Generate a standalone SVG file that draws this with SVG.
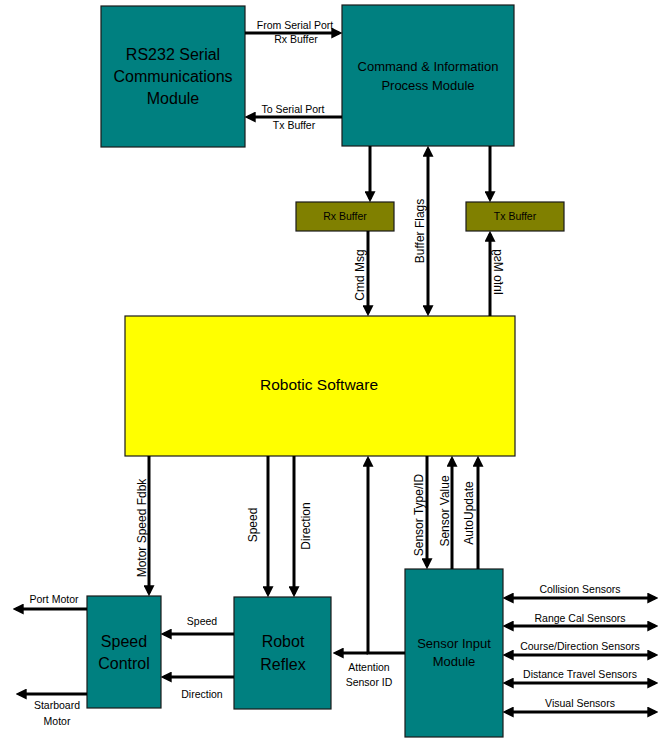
<svg xmlns="http://www.w3.org/2000/svg" width="666" height="739" viewBox="0 0 666 739">
<style>
text{font-family:"Liberation Sans",Arial,sans-serif;fill:#000}
.box{stroke:#1a1a1a;stroke-width:1.2}
.teal{fill:#008080}
.olive{fill:#808000}
.yellow{fill:#ffff00}
.lbl{font-size:10.5px;text-anchor:middle}
.vl{font-size:12px;text-anchor:middle}
.big{font-size:16px;text-anchor:middle}
.mid{font-size:13px;text-anchor:middle}
.c line,.c path{stroke:#000;stroke-width:3;fill:none}
</style>
<defs>
<marker id="ah" viewBox="0 0 10 10" refX="7" refY="5" markerWidth="11" markerHeight="11" markerUnits="userSpaceOnUse" orient="auto-start-reverse">
<path d="M0,0 L10,5 L0,10 z" fill="#000"/>
</marker>
</defs>
<rect width="666" height="739" fill="#fff"/>

<g id="rs232">
<rect class="box teal" x="101" y="6" width="144" height="141"/>
<text class="big" x="173" y="60">RS232 Serial</text>
<text class="big" x="173" y="82">Communications</text>
<text class="big" x="173" y="104">Module</text>
</g>

<g id="command">
<rect class="box teal" x="342" y="5" width="172" height="141"/>
<text class="mid" x="428" y="71">Command &amp; Information</text>
<text class="mid" x="428" y="90">Process Module</text>
</g>

<g id="rxbuffer">
<rect class="box olive" x="296" y="202" width="98" height="29"/>
<text class="lbl" x="345" y="220">Rx Buffer</text>
</g>

<g id="txbuffer">
<rect class="box olive" x="466" y="202" width="98" height="29"/>
<text class="lbl" x="515" y="220">Tx Buffer</text>
</g>

<g id="robotic">
<rect class="box yellow" x="125" y="316" width="390" height="140"/>
<text class="big" x="319" y="390" style="font-size:15.5px">Robotic Software</text>
</g>

<g id="speedcontrol">
<rect class="box teal" x="87" y="596" width="74" height="112"/>
<text class="big" x="124" y="647">Speed</text>
<text class="big" x="124" y="669">Control</text>
</g>

<g id="robotreflex">
<rect class="box teal" x="234" y="597" width="97" height="112"/>
<text class="big" x="283" y="647">Robot</text>
<text class="big" x="283" y="670">Reflex</text>
</g>

<g id="sensorinput">
<rect class="box teal" x="405" y="569" width="98" height="168"/>
<text class="mid" x="454" y="648">Sensor Input</text>
<text class="mid" x="454" y="666">Module</text>
</g>

<g id="connectors" class="c">
<line x1="245" y1="33" x2="339" y2="33" marker-end="url(#ah)"/>
<line x1="342" y1="117" x2="248" y2="117" marker-end="url(#ah)"/>
<line x1="370" y1="146" x2="370" y2="199" marker-end="url(#ah)"/>
<line x1="428" y1="149" x2="428" y2="313" marker-start="url(#ah)" marker-end="url(#ah)"/>
<line x1="490" y1="146" x2="490" y2="199" marker-end="url(#ah)"/>
<line x1="368" y1="231" x2="368" y2="313" marker-end="url(#ah)"/>
<line x1="490" y1="316" x2="490" y2="234" marker-end="url(#ah)"/>
<line x1="149" y1="456" x2="149" y2="593" marker-end="url(#ah)"/>
<line x1="268" y1="456" x2="268" y2="594" marker-end="url(#ah)"/>
<line x1="294" y1="456" x2="294" y2="594" marker-end="url(#ah)"/>
<line x1="427" y1="456" x2="427" y2="566" marker-end="url(#ah)"/>
<line x1="452" y1="569" x2="452" y2="459" marker-end="url(#ah)"/>
<line x1="478" y1="569" x2="478" y2="459" marker-end="url(#ah)"/>
<path d="M405,653 L368,653 L368,459" marker-end="url(#ah)"/>
<line x1="368" y1="653" x2="336" y2="653" marker-end="url(#ah)"/>
<line x1="87" y1="609" x2="16" y2="609" marker-end="url(#ah)"/>
<line x1="87" y1="694" x2="19" y2="694" marker-end="url(#ah)"/>
<line x1="234" y1="634" x2="164" y2="634" marker-end="url(#ah)"/>
<line x1="234" y1="677" x2="164" y2="677" marker-end="url(#ah)"/>
<line x1="506" y1="598" x2="655" y2="598" marker-start="url(#ah)" marker-end="url(#ah)"/>
<line x1="506" y1="626" x2="655" y2="626" marker-start="url(#ah)" marker-end="url(#ah)"/>
<line x1="506" y1="655" x2="655" y2="655" marker-start="url(#ah)" marker-end="url(#ah)"/>
<line x1="506" y1="683" x2="655" y2="683" marker-start="url(#ah)" marker-end="url(#ah)"/>
<line x1="506" y1="712" x2="655" y2="712" marker-start="url(#ah)" marker-end="url(#ah)"/>
</g>

<g id="labels">
<text class="lbl" x="295" y="29">From Serial Port</text>
<text class="lbl" x="296" y="43">Rx Buffer</text>
<text class="lbl" x="293" y="113">To Serial Port</text>
<text class="lbl" x="294" y="129">Tx Buffer</text>
<text class="vl" transform="translate(364,275) rotate(-90)">Cmd Msg</text>
<text class="vl" transform="translate(424,231) rotate(-90)">Buffer Flags</text>
<text class="vl" transform="matrix(0,-1,-1,0,494,272)">Info Msg</text>
<text class="vl" transform="translate(146,528) rotate(-90)">Motor Speed Fdbk</text>
<text class="vl" transform="translate(257,525) rotate(-90)">Speed</text>
<text class="vl" transform="translate(310,526) rotate(-90)">Direction</text>
<text class="vl" transform="translate(423,515) rotate(-90)">Sensor Type/ID</text>
<text class="vl" transform="translate(449,511) rotate(-90)">Sensor Value</text>
<text class="vl" transform="translate(473,513) rotate(-90)">AutoUpdate</text>
<text class="lbl" x="54" y="603">Port Motor</text>
<text class="lbl" x="57" y="709">Starboard</text>
<text class="lbl" x="57" y="725">Motor</text>
<text class="lbl" x="202" y="625">Speed</text>
<text class="lbl" x="202" y="698">Direction</text>
<text class="lbl" x="369" y="671">Attention</text>
<text class="lbl" x="369" y="686">Sensor ID</text>
<text class="lbl" x="580" y="593">Collision Sensors</text>
<text class="lbl" x="580" y="622">Range Cal Sensors</text>
<text class="lbl" x="580" y="650">Course/Direction Sensors</text>
<text class="lbl" x="580" y="678">Distance Travel Sensors</text>
<text class="lbl" x="580" y="707">Visual Sensors</text>
</g>
</svg>
